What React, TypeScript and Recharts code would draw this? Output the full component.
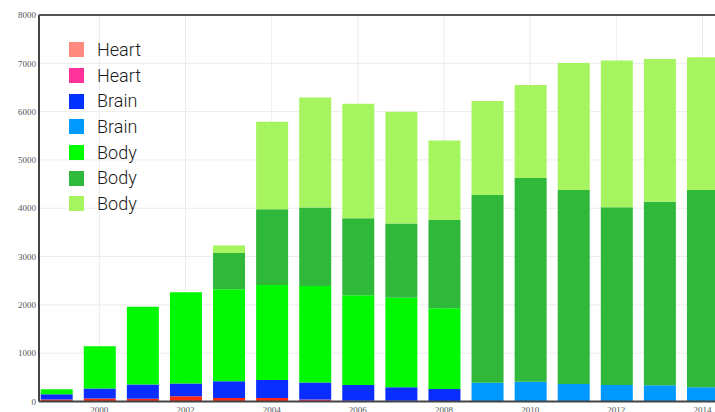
import React from "react";
import {
  BarChart,
  Bar,
  XAxis,
  YAxis,
  CartesianGrid,
  Legend,
  ReferenceLine,
} from "recharts";

const years = [1999, 2000, 2001, 2002, 2003, 2004, 2005, 2006, 2007, 2008, 2009, 2010, 2011, 2012, 2013, 2014];
const heartA = [40, 60, 55, 110, 75, 70, 0, 0, 0, 0, 0, 0, 0, 0, 0, 0];
const heartB = [0, 0, 0, 0, 0, 0, 40, 18, 15, 0, 0, 0, 0, 0, 0, 0];
const brainA = [110, 207, 298, 262, 344, 373, 352, 322, 282, 259, 0, 0, 0, 0, 0, 0];
const brainB = [0, 0, 0, 0, 0, 0, 0, 0, 0, 0, 390, 410, 362, 342, 335, 294];
const bodyA = [105, 876, 1607, 1891, 1905, 1967, 2001, 1857, 1849, 1670, 0, 0, 0, 0, 0, 0];
const bodyB = [0, 0, 0, 0, 752, 1567, 1623, 1594, 1540, 1829, 3885, 4217, 4017, 3679, 3802, 4085];
const bodyC = [0, 0, 0, 0, 153, 1814, 2277, 2373, 2311, 1642, 1947, 1926, 2629, 3035, 2954, 2747];

const xTicks = [2000, 2002, 2004, 2006, 2008, 2010, 2012, 2014];
const yTicks = [0, 1000, 2000, 3000, 4000, 5000, 6000, 7000, 8000];

const legendNames = ["Heart", "Heart", "Brain", "Brain", "Body", "Body", "Body"];
const legendColors = ["#ff8a80", "#ff3399", "#0033ff", "#0099ff", "#00ff00", "#2eb83c", "#a6f560"];

const data = years.map((y, i) => ({
  year: y,
  heartA: heartA[i],
  heartB: heartB[i],
  brainA: brainA[i],
  brainB: brainB[i],
  bodyA: bodyA[i],
  bodyB: bodyB[i],
  bodyC: bodyC[i],
}));

const series = [
  { key: "heartA", fill: "#ff2a14" },
  { key: "heartB", fill: "#f0306a" },
  { key: "brainA", fill: "#0a2eff" },
  { key: "brainB", fill: "#0099ff" },
  { key: "bodyA", fill: "#00f800" },
  { key: "bodyB", fill: "#2fb83a" },
  { key: "bodyC", fill: "#a6f560" },
];

const tickFont = { fontFamily: "'Liberation Serif', 'DejaVu Serif', serif", fontSize: 9, fill: "#555" };

const LegendBox = () => (
  <div style={{ fontFamily: "Roboto, 'Noto Sans', sans-serif", fontWeight: 300, fontSize: 18, color: "#1a1a1a", whiteSpace: "nowrap", width: 150 }}>
    {legendNames.map((n, i) => (
      <div key={i} style={{ display: "flex", alignItems: "center", height: 25.7 }}>
        <span style={{ width: 15, height: 15, background: legendColors[i], display: "inline-block", marginRight: 13 }} />
        <span style={{ lineHeight: "18px" }}>{n}</span>
      </div>
    ))}
  </div>
);

export default function App() {
  return (
    <div style={{ position: "fixed", left: 0, top: 0, width: 715, height: 412, overflow: "hidden", background: "#fff" }}>
      <BarChart
        width={740}
        height={430}
        data={data}
        margin={{ top: 15, right: 0, bottom: 0, left: 0 }}
        barSize={32}
      >
        <CartesianGrid stroke="#ececec" strokeWidth={1} />
        <XAxis
          dataKey="year"
          type="number"
          domain={[1998.6, 2014.87]}
          ticks={xTicks}
          allowDataOverflow
          height={28.5}
          tickLine={false}
          tickSize={5}
          tickMargin={0.5}
          stroke="#444"
          strokeWidth={2}
          tick={tickFont}
        />
        <YAxis
          domain={[0, 8000]}
          ticks={yTicks}
          width={39}
          tickLine={false}
          tickSize={2}
          tickMargin={1}
          stroke="#444"
          strokeWidth={2}
          tick={tickFont}
          interval={0}
        />
        <ReferenceLine y={8000} stroke="#555" strokeWidth={2} />
        {series.map((s) => (
          <Bar key={s.key} dataKey={s.key} stackId="a" fill={s.fill} isAnimationActive={false} />
        ))}
        <Legend
          content={() => <LegendBox />}
          layout="horizontal"
          verticalAlign="top"
          align="left"
          wrapperStyle={{ position: "absolute", left: 69, top: 37, width: 0, height: 0, overflow: "visible" }}
        />
      </BarChart>
    </div>
  );
}
